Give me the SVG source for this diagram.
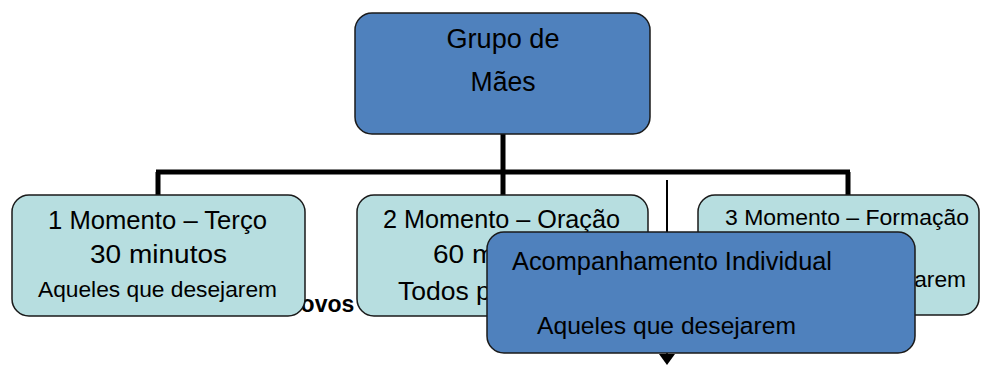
<svg xmlns="http://www.w3.org/2000/svg" width="981" height="365" viewBox="0 0 981 365">
<defs>
<style>
.dark{fill:#4F81BD;stroke:#1a1a1a;stroke-width:1.5}
.light{fill:#B7DEE0;stroke:#1a1a1a;stroke-width:1.5}
text{font-family:"Liberation Sans",Arial,sans-serif;fill:#000}
.thick{stroke:#000;stroke-width:5;fill:none}
.thin{stroke:#000;stroke-width:2;fill:none}
</style>
</defs>
<rect width="981" height="365" fill="#fff"/>
<g id="connectors">
<path class="thick" d="M503,134 V195 M156,172 H850 M158,172 V195 M848,172 V195"/>
<line class="thin" x1="667" y1="180" x2="667" y2="354"/>
<path d="M659,354 L675,354 L667,365 z" fill="#000"/>
</g>
<text x="284" y="312" font-size="23" font-weight="bold">Novos</text>
<g id="node-grupo">
<rect class="dark" x="355" y="13" width="295" height="121" rx="17"/>
<text x="503" y="48" font-size="27" text-anchor="middle" textLength="113" lengthAdjust="spacingAndGlyphs">Grupo de</text>
<text x="503" y="91" font-size="27" text-anchor="middle" textLength="65" lengthAdjust="spacingAndGlyphs">Mães</text>
</g>
<g id="node-1">
<rect class="light" x="12" y="195" width="293" height="121" rx="17"/>
<text x="48" y="229" font-size="25" textLength="219" lengthAdjust="spacingAndGlyphs">1 Momento – Terço</text>
<text x="90" y="263" font-size="26.5" textLength="137" lengthAdjust="spacingAndGlyphs">30 minutos</text>
<text x="38" y="297" font-size="22.5" textLength="239" lengthAdjust="spacingAndGlyphs">Aqueles que desejarem</text>
</g>
<g id="node-2">
<rect class="light" x="357" y="195" width="291" height="121" rx="17"/>
<text x="383" y="228" font-size="25" textLength="237" lengthAdjust="spacingAndGlyphs">2 Momento – Oração</text>
<text x="433" y="263" font-size="26.5" textLength="137" lengthAdjust="spacingAndGlyphs">60 minutos</text>
<text x="398" y="300" font-size="26.5">Todos participam</text>
</g>
<g id="node-3">
<rect class="light" x="698" y="195" width="281" height="120" rx="17"/>
<text x="725" y="225" font-size="22.5" textLength="244" lengthAdjust="spacingAndGlyphs">3 Momento – Formação</text>
<text x="727" y="287" font-size="22.5" textLength="239" lengthAdjust="spacingAndGlyphs">Aqueles que desejarem</text>
</g>
<g id="node-acompanhamento">
<rect class="dark" x="487" y="232" width="428" height="121" rx="17"/>
<text x="512" y="270" font-size="25.5" textLength="320" lengthAdjust="spacingAndGlyphs">Acompanhamento Individual</text>
<text x="537" y="334" font-size="24.5" textLength="259" lengthAdjust="spacingAndGlyphs">Aqueles que desejarem</text>
</g>
</svg>
